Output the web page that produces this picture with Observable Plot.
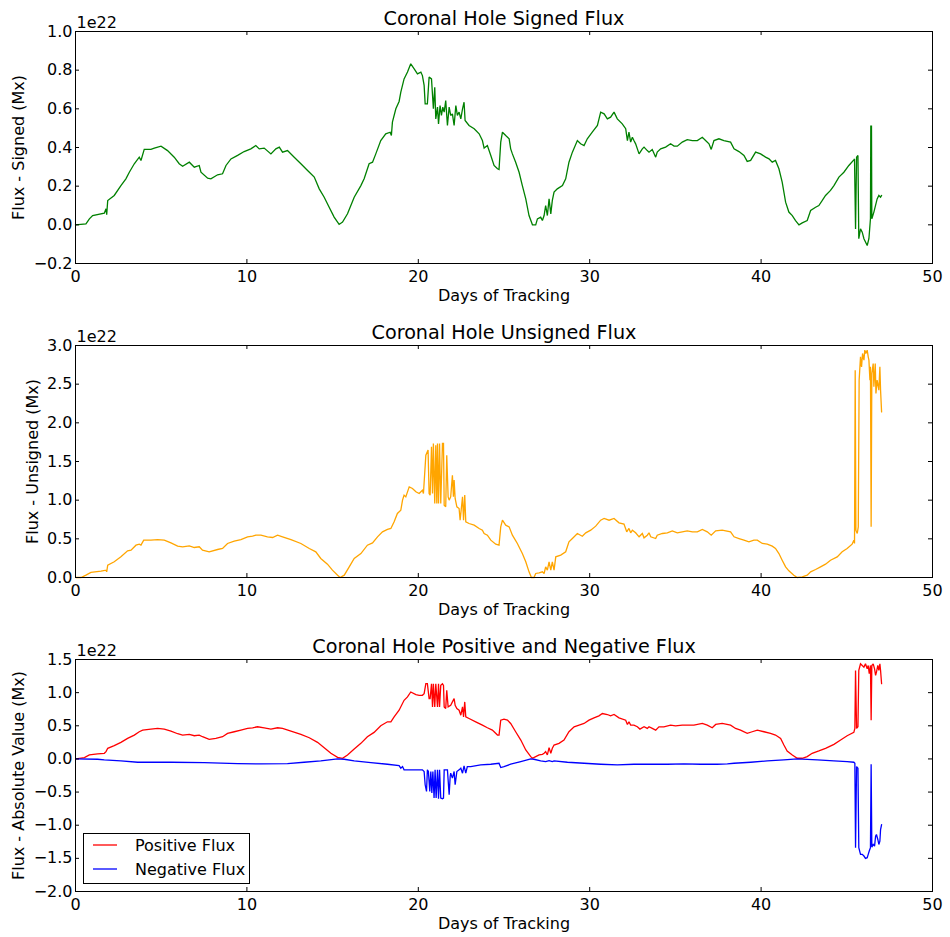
<!DOCTYPE html>
<html><head><meta charset="utf-8">
<script src="https://cdn.jsdelivr.net/npm/d3@7"></script>
<script src="https://cdn.jsdelivr.net/npm/@observablehq/plot@0.6"></script>
<style>
body{margin:0;background:#fff}
#chart{width:950px;position:relative;background:#fff}
#chart svg{display:block}
</style>
</head><body><div id="chart"></div>
<script>
// ---- data (flux in units of 1e22 Mx, x = days of tracking) ----
const xTicks = [0, 10, 20, 30, 40, 50];
const signedTicks = [-0.2, 0, 0.2, 0.4, 0.6, 0.8, 1.0];
const unsignedTicks = [0, 0.5, 1.0, 1.5, 2.0, 2.5, 3.0];
const posNegTicks = [-2.0, -1.5, -1.0, -0.5, 0, 0.5, 1.0, 1.5];
const titles = ["Coronal Hole Signed Flux", "Coronal Hole Unsigned Flux", "Coronal Hole Positive and Negative Flux"];
const yLabels = ["Flux - Signed (Mx)", "Flux - Unsigned (Mx)", "Flux - Absolute Value (Mx)"];
const xLabel = "Days of Tracking";
const legendLabels = ["Positive Flux", "Negative Flux"];

const signedFlux = [[0,0],[0.61,0.005],[0.81,0.031],[1.0,0.048],[1.68,0.06],[1.78,0.083],[1.82,0.052],[1.88,0.126],[2.26,0.152],[2.65,0.203],[2.94,0.238],[3.14,0.272],[3.43,0.316],[3.72,0.35],[3.82,0.333],[4.01,0.39],[4.4,0.39],[4.6,0.397],[4.99,0.407],[5.37,0.384],[5.76,0.35],[6.05,0.316],[6.25,0.303],[6.64,0.324],[6.93,0.298],[7.22,0.307],[7.32,0.272],[7.71,0.241],[7.9,0.238],[8.29,0.259],[8.58,0.264],[8.78,0.307],[9.07,0.341],[9.46,0.359],[9.84,0.379],[10.23,0.393],[10.52,0.41],[10.72,0.393],[11.01,0.397],[11.4,0.367],[11.69,0.393],[11.89,0.402],[12.08,0.376],[12.37,0.384],[12.76,0.35],[13.15,0.316],[13.54,0.281],[13.93,0.247],[14.22,0.186],[14.51,0.143],[14.8,0.091],[15.09,0.04],[15.38,0.002],[15.58,0.014],[15.87,0.057],[16.26,0.143],[16.65,0.203],[16.84,0.238],[17.13,0.316],[17.33,0.324],[17.52,0.367],[17.81,0.436],[18.1,0.471],[18.36,0.479],[18.43,0.462],[18.49,0.531],[18.69,0.6],[18.88,0.638],[18.98,0.686],[19.17,0.755],[19.37,0.79],[19.56,0.833],[19.76,0.807],[19.95,0.781],[20.15,0.79],[20.24,0.772],[20.34,0.721],[20.4,0.626],[20.53,0.626],[20.63,0.764],[20.77,0.755],[20.88,0.6],[20.96,0.712],[21.02,0.548],[21.12,0.609],[21.18,0.522],[21.27,0.617],[21.35,0.566],[21.43,0.609],[21.51,0.583],[21.6,0.643],[21.7,0.514],[21.8,0.609],[21.89,0.566],[21.99,0.574],[22.09,0.514],[22.19,0.617],[22.28,0.566],[22.38,0.583],[22.48,0.548],[22.58,0.6],[22.67,0.634],[22.73,0.54],[22.96,0.514],[23.26,0.497],[23.55,0.471],[23.74,0.436],[23.84,0.397],[24.03,0.41],[24.23,0.359],[24.42,0.307],[24.62,0.29],[24.71,0.286],[24.81,0.428],[24.91,0.479],[25.1,0.462],[25.3,0.445],[25.39,0.393],[25.49,0.367],[25.68,0.324],[25.88,0.272],[26.07,0.203],[26.27,0.134],[26.46,0.048],[26.66,0],[26.85,0],[26.95,0.031],[27.14,0.04],[27.24,0.022],[27.34,0.048],[27.43,0.1],[27.53,0.048],[27.63,0.134],[27.73,0.057],[27.82,0.126],[27.92,0.169],[28.11,0.186],[28.41,0.203],[28.6,0.238],[28.79,0.324],[28.99,0.376],[29.28,0.436],[29.47,0.419],[29.67,0.41],[29.86,0.445],[30.15,0.479],[30.45,0.514],[30.64,0.583],[30.84,0.574],[31.03,0.548],[31.22,0.557],[31.42,0.583],[31.61,0.548],[31.9,0.522],[32.1,0.497],[32.2,0.436],[32.29,0.479],[32.39,0.428],[32.49,0.453],[32.58,0.436],[32.68,0.419],[32.88,0.367],[33.07,0.393],[33.17,0.402],[33.36,0.384],[33.46,0.376],[33.65,0.39],[33.85,0.35],[33.94,0.376],[34.14,0.393],[34.43,0.402],[34.72,0.419],[34.92,0.407],[35.11,0.407],[35.4,0.428],[35.69,0.441],[35.99,0.436],[36.28,0.436],[36.57,0.453],[36.76,0.436],[36.96,0.419],[37.09,0.39],[37.25,0.436],[37.54,0.445],[37.83,0.436],[38.22,0.428],[38.42,0.393],[38.71,0.379],[39.0,0.359],[39.19,0.328],[39.39,0.333],[39.68,0.376],[39.97,0.367],[40.26,0.35],[40.46,0.341],[40.65,0.324],[40.84,0.333],[41.04,0.29],[41.23,0.221],[41.43,0.117],[41.62,0.066],[41.82,0.048],[42.01,0.022],[42.21,0],[42.4,0.01],[42.69,0.022],[42.89,0.074],[43.18,0.091],[43.37,0.1],[43.57,0.126],[43.76,0.152],[44.05,0.178],[44.25,0.203],[44.54,0.247],[44.83,0.272],[45.12,0.307],[45.41,0.336],[45.45,0.341],[45.51,-0.021],[45.57,0.35],[45.65,0.359],[45.7,-0.072],[45.8,-0.021],[45.9,-0.038],[46.0,-0.072],[46.19,-0.107],[46.29,-0.072],[46.38,0.031],[46.4,0.514],[46.42,0.031],[46.44,0.514],[46.46,0.031],[46.58,0.066],[46.77,0.134],[46.87,0.152],[46.97,0.143],[47.03,0.152]];

const unsignedFlux = [[0.03,0],[0.32,0],[0.61,0.03],[0.9,0.065],[1.49,0.082],[1.78,0.095],[1.82,0.073],[1.88,0.159],[2.26,0.203],[2.65,0.267],[3.04,0.345],[3.24,0.353],[3.53,0.418],[3.72,0.431],[3.82,0.418],[3.98,0.483],[4.4,0.483],[4.79,0.491],[5.18,0.483],[5.57,0.448],[5.96,0.405],[6.25,0.397],[6.64,0.409],[6.93,0.388],[7.22,0.397],[7.41,0.353],[7.8,0.332],[8.29,0.362],[8.58,0.375],[8.87,0.44],[9.26,0.47],[9.65,0.491],[10.04,0.526],[10.33,0.534],[10.52,0.547],[10.82,0.547],[11.2,0.526],[11.5,0.517],[11.79,0.547],[12.08,0.526],[12.57,0.491],[13.15,0.44],[13.64,0.375],[14.02,0.332],[14.31,0.246],[14.7,0.172],[14.99,0.095],[15.29,0.03],[15.44,0],[15.68,0.03],[15.97,0.138],[16.26,0.246],[16.65,0.31],[17.03,0.418],[17.33,0.448],[17.62,0.526],[17.91,0.591],[18.2,0.621],[18.4,0.634],[18.59,0.72],[18.78,0.828],[18.98,0.871],[19.08,1.0],[19.17,1.065],[19.27,1.043],[19.47,1.172],[19.66,1.151],[19.86,1.108],[20.05,1.086],[20.24,1.129],[20.3,1.086],[20.44,1.582],[20.57,1.647],[20.63,1.086],[20.69,1.065],[20.77,1.69],[20.83,1.086],[20.88,1.733],[20.96,0.957],[21.02,1.711],[21.08,0.957],[21.12,1.733],[21.18,0.957],[21.24,1.733],[21.31,0.957],[21.41,1.733],[21.47,1.733],[21.51,0.935],[21.6,0.914],[21.66,1.582],[21.74,1.043],[21.8,1.0],[21.89,1.043],[21.99,1.323],[22.05,1.043],[22.09,1.259],[22.15,1.022],[22.25,0.914],[22.38,0.892],[22.44,0.741],[22.58,1.043],[22.64,0.741],[22.71,1.065],[22.77,0.72],[22.96,0.698],[23.26,0.677],[23.55,0.634],[23.74,0.612],[23.84,0.569],[24.03,0.547],[24.23,0.483],[24.52,0.431],[24.71,0.418],[24.81,0.655],[24.91,0.741],[25.1,0.677],[25.3,0.655],[25.49,0.547],[25.78,0.44],[26.07,0.31],[26.27,0.203],[26.46,0.073],[26.6,0],[26.75,0],[26.85,0.052],[27.05,0.06],[27.24,0.073],[27.34,0.052],[27.43,0.138],[27.53,0.095],[27.63,0.203],[27.73,0.095],[27.82,0.203],[27.92,0.095],[28.02,0.267],[28.31,0.289],[28.6,0.332],[28.79,0.461],[28.99,0.504],[29.28,0.569],[29.57,0.534],[29.77,0.578],[30.06,0.612],[30.35,0.664],[30.64,0.741],[30.84,0.763],[31.13,0.741],[31.42,0.763],[31.71,0.707],[32.0,0.69],[32.16,0.591],[32.29,0.634],[32.39,0.578],[32.49,0.612],[32.68,0.578],[32.88,0.526],[33.07,0.569],[33.17,0.513],[33.36,0.547],[33.46,0.578],[33.56,0.526],[33.85,0.504],[33.94,0.547],[34.24,0.569],[34.53,0.578],[34.82,0.603],[35.11,0.578],[35.4,0.591],[35.69,0.603],[35.99,0.591],[36.28,0.591],[36.57,0.621],[36.86,0.591],[37.09,0.547],[37.35,0.603],[37.73,0.612],[38.22,0.591],[38.42,0.526],[38.71,0.504],[39.0,0.483],[39.29,0.461],[39.58,0.483],[39.78,0.483],[40.07,0.44],[40.36,0.431],[40.65,0.405],[40.84,0.375],[41.04,0.31],[41.23,0.224],[41.43,0.138],[41.62,0.086],[41.91,0.03],[42.11,0],[42.4,0.009],[42.69,0.03],[42.89,0.073],[43.18,0.103],[43.47,0.138],[43.76,0.172],[44.05,0.224],[44.44,0.267],[44.73,0.332],[45.02,0.375],[45.31,0.431],[45.41,0.483],[45.45,0.44],[45.49,2.681],[45.53,0.612],[45.61,0.569],[45.67,0.655],[45.72,2.552],[45.8,2.853],[45.86,2.724],[45.92,2.897],[46.0,2.81],[46.05,2.94],[46.11,2.897],[46.19,2.94],[46.25,2.853],[46.29,2.81],[46.35,2.552],[46.38,2.724],[46.42,0.655],[46.46,2.638],[46.54,2.767],[46.58,2.466],[46.66,2.767],[46.7,2.379],[46.77,2.552],[46.87,2.422],[46.93,2.724],[46.97,2.422],[47.03,2.142]];

const positiveFlux = [[0.03,0],[0.52,0.02],[0.81,0.06],[1.29,0.075],[1.68,0.085],[1.78,0.11],[1.88,0.16],[2.26,0.2],[2.65,0.25],[3.04,0.31],[3.43,0.36],[3.72,0.41],[3.92,0.435],[4.4,0.45],[4.79,0.46],[5.18,0.45],[5.57,0.42],[5.96,0.38],[6.25,0.36],[6.64,0.37],[6.93,0.35],[7.22,0.36],[7.41,0.335],[7.8,0.295],[8.19,0.31],[8.58,0.335],[8.87,0.385],[9.26,0.41],[9.65,0.435],[10.04,0.46],[10.33,0.47],[10.62,0.485],[11.01,0.47],[11.4,0.45],[11.79,0.47],[12.08,0.46],[12.57,0.42],[13.15,0.37],[13.64,0.32],[14.12,0.25],[14.51,0.17],[14.9,0.085],[15.29,0.025],[15.58,0.01],[15.87,0.06],[16.26,0.15],[16.65,0.235],[17.03,0.335],[17.42,0.4],[17.81,0.5],[18.2,0.56],[18.4,0.56],[18.59,0.635],[18.88,0.735],[19.17,0.885],[19.37,0.935],[19.56,1.01],[19.86,0.97],[20.05,0.96],[20.24,0.96],[20.34,0.985],[20.44,1.135],[20.53,1.135],[20.63,0.91],[20.69,0.91],[20.77,1.135],[20.83,0.785],[20.88,1.135],[20.96,0.785],[21.02,1.135],[21.12,0.785],[21.18,1.135],[21.24,0.785],[21.31,1.11],[21.41,1.135],[21.47,1.11],[21.51,0.785],[21.6,0.76],[21.66,1.035],[21.74,0.785],[21.89,0.81],[21.99,0.86],[22.09,0.91],[22.15,0.81],[22.25,0.76],[22.38,0.735],[22.48,0.66],[22.58,0.785],[22.64,0.635],[22.71,0.86],[22.77,0.635],[22.96,0.61],[23.35,0.56],[23.74,0.51],[24.03,0.47],[24.32,0.435],[24.62,0.36],[24.71,0.36],[24.81,0.585],[25.0,0.6],[25.2,0.585],[25.39,0.535],[25.68,0.41],[25.98,0.285],[26.27,0.135],[26.56,0.035],[26.66,0.01],[26.85,0.035],[27.05,0.06],[27.24,0.07],[27.34,0.085],[27.43,0.11],[27.53,0.06],[27.63,0.17],[27.73,0.085],[27.82,0.16],[27.92,0.21],[28.21,0.235],[28.5,0.285],[28.79,0.41],[29.09,0.485],[29.38,0.51],[29.67,0.535],[29.96,0.585],[30.25,0.62],[30.54,0.65],[30.74,0.685],[31.03,0.67],[31.22,0.65],[31.42,0.67],[31.71,0.62],[32.1,0.585],[32.2,0.52],[32.29,0.56],[32.39,0.51],[32.58,0.51],[32.78,0.485],[32.93,0.45],[33.17,0.485],[33.36,0.46],[33.46,0.485],[33.65,0.46],[33.85,0.435],[34.04,0.485],[34.33,0.485],[34.72,0.51],[35.01,0.5],[35.4,0.51],[35.69,0.51],[36.08,0.51],[36.57,0.535],[36.86,0.51],[37.15,0.47],[37.35,0.52],[37.73,0.535],[38.22,0.51],[38.51,0.46],[38.8,0.435],[39.19,0.385],[39.48,0.41],[39.78,0.435],[40.17,0.41],[40.55,0.385],[40.84,0.36],[41.14,0.31],[41.33,0.21],[41.52,0.12],[41.82,0.06],[42.11,0.01],[42.4,0.01],[42.69,0.035],[42.98,0.085],[43.37,0.12],[43.76,0.16],[44.25,0.22],[44.64,0.285],[45.02,0.35],[45.41,0.4],[45.47,0.46],[45.51,1.335],[45.57,0.46],[45.65,0.485],[45.7,1.335],[45.8,1.435],[45.9,1.41],[46.0,1.385],[46.09,1.435],[46.19,1.36],[46.25,1.41],[46.31,1.285],[46.38,1.41],[46.42,0.585],[46.46,1.41],[46.54,1.435],[46.62,1.36],[46.68,1.26],[46.73,1.31],[46.81,1.41],[46.87,1.335],[46.93,1.435],[46.97,1.335],[47.03,1.135]];

const negativeFlux = [[0.03,0],[1.29,-0.005],[1.68,-0.015],[2.65,-0.03],[3.63,-0.05],[4.6,-0.05],[5.57,-0.05],[7.51,-0.055],[9.46,-0.07],[10.82,-0.075],[12.37,-0.07],[13.34,-0.05],[14.31,-0.03],[15.29,0],[15.68,-0.005],[16.26,-0.03],[17.23,-0.055],[18.2,-0.08],[18.88,-0.1],[18.98,-0.14],[19.08,-0.115],[19.17,-0.165],[19.37,-0.165],[19.95,-0.165],[20.24,-0.165],[20.34,-0.19],[20.4,-0.39],[20.48,-0.49],[20.53,-0.165],[20.59,-0.19],[20.67,-0.49],[20.73,-0.19],[20.79,-0.515],[20.85,-0.19],[20.92,-0.59],[20.98,-0.165],[21.04,-0.59],[21.12,-0.165],[21.18,-0.6],[21.24,-0.165],[21.31,-0.59],[21.41,-0.6],[21.47,-0.59],[21.51,-0.165],[21.6,-0.165],[21.7,-0.165],[21.8,-0.54],[21.86,-0.265],[21.89,-0.215],[21.99,-0.29],[22.09,-0.19],[22.15,-0.39],[22.25,-0.19],[22.38,-0.165],[22.48,-0.14],[22.58,-0.215],[22.67,-0.105],[22.77,-0.215],[22.86,-0.115],[23.06,-0.115],[23.64,-0.09],[24.23,-0.08],[24.71,-0.065],[24.81,-0.13],[25.0,-0.115],[25.39,-0.08],[25.98,-0.04],[26.56,0],[26.75,-0.005],[27.14,-0.03],[27.43,-0.04],[27.63,-0.025],[27.82,-0.04],[27.92,-0.03],[28.7,-0.05],[29.67,-0.065],[30.64,-0.08],[31.61,-0.09],[32.58,-0.08],[33.56,-0.08],[34.53,-0.08],[35.5,-0.075],[36.47,-0.08],[37.44,-0.08],[38.03,-0.075],[38.42,-0.065],[39.39,-0.05],[40.36,-0.03],[41.33,-0.015],[42.11,0],[43.28,-0.015],[44.25,-0.03],[45.02,-0.04],[45.41,-0.05],[45.47,-0.065],[45.51,-1.34],[45.57,-0.115],[45.65,-0.14],[45.7,-1.34],[45.8,-1.44],[45.9,-1.44],[46.0,-1.465],[46.09,-1.5],[46.19,-1.49],[46.25,-1.44],[46.31,-1.39],[46.38,-1.34],[46.42,-0.08],[46.46,-1.33],[46.54,-1.29],[46.62,-1.315],[46.68,-1.165],[46.73,-1.14],[46.81,-1.215],[46.87,-1.29],[46.93,-1.24],[46.97,-1.065],[47.03,-0.99]];

// ---- layout / style ----
const W = 950, ML = 75, MR = 18, MT = 31, FH = 232;
const FW = W - ML - MR;
const FONT = "DejaVu Sans, sans-serif";
const fmt1 = d3.format(".1f");

function panel({title, ylabel, ylabelDx, domain, ticks, series, height}) {
  const marginBottom = height - MT - FH;
  return Plot.plot({
    width: W, height,
    marginLeft: ML, marginRight: MR, marginTop: MT, marginBottom,
    style: {fontFamily: FONT, fontSize: "16px", background: "#fff", color: "#000", overflow: "visible"},
    x: {domain: [0, 50]},
    y: {domain},
    marks: [
      ...series.map(s => Plot.line(s.data, {x: d => d[0], y: d => d[1], stroke: s.color, strokeWidth: 1.3, strokeLinejoin: "miter", strokeMiterlimit: 2})),
      Plot.frame({stroke: "#000", strokeWidth: 1}),
      // inward ticks on all four sides
      Plot.tickY(ticks, {y: d => d, stroke: "#000", insetRight: FW - 4}),
      Plot.tickY(ticks, {y: d => d, stroke: "#000", insetLeft: FW - 4}),
      Plot.tickX(xTicks, {x: d => d, stroke: "#000", insetTop: FH - 4}),
      Plot.tickX(xTicks, {x: d => d, stroke: "#000", insetBottom: FH - 4}),
      Plot.axisX({ticks: xTicks, tickSize: 0, tickPadding: 7, tickFormat: d => String(d), label: null, fontSize: 16}),
      Plot.axisY({ticks, tickSize: 0, tickPadding: 3, tickFormat: fmt1, label: null, fontSize: 16}),
      Plot.text([title], {frameAnchor: "top", dy: -7, lineAnchor: "bottom", textAnchor: "middle", fontSize: 19.2, fill: "#000"}),
      Plot.text(["1e22"], {frameAnchor: "top-left", dx: 1, dy: -4, textAnchor: "start", lineAnchor: "bottom", fontSize: 16, fill: "#000"}),
      Plot.text([xLabel], {frameAnchor: "bottom", dy: 37, lineAnchor: "bottom", textAnchor: "middle", fontSize: 16, fill: "#000"}),
      Plot.text([ylabel], {frameAnchor: "left", dx: ylabelDx, rotate: -90, lineAnchor: "bottom", textAnchor: "middle", fontSize: 16, fill: "#000"})
    ]
  });
}

const chart = document.getElementById("chart");
chart.appendChild(panel({title: titles[0], ylabel: yLabels[0], ylabelDx: -52, domain: [-0.2, 1.0], ticks: signedTicks,
  series: [{data: signedFlux, color: "#008000"}], height: 314}));
chart.appendChild(panel({title: titles[1], ylabel: yLabels[1], ylabelDx: -38, domain: [0, 3.0], ticks: unsignedTicks,
  series: [{data: unsignedFlux, color: "#ffa500"}], height: 314}));
const bottom = panel({title: titles[2], ylabel: yLabels[2], ylabelDx: -52, domain: [-2.0, 1.5], ticks: posNegTicks,
  series: [{data: positiveFlux, color: "#ff0000"}, {data: negativeFlux, color: "#0000ff"}], height: 309});
chart.appendChild(bottom);

// legend inside the bottom axes (lower left)
const lg = d3.select(bottom).append("g").attr("font-family", FONT).attr("font-size", 16).attr("text-anchor", "start");
lg.append("rect").attr("x", 83.5).attr("y", 205.5).attr("width", 166).attr("height", 50)
  .attr("fill", "#fff").attr("stroke", "#000").attr("stroke-width", 1);
[["#ff0000", legendLabels[0]], ["#0000ff", legendLabels[1]]].forEach(([c, t], i) => {
  const yy = 217 + i * 24;
  lg.append("line").attr("x1", 93).attr("x2", 117).attr("y1", yy).attr("y2", yy).attr("stroke", c).attr("stroke-width", 1.3);
  lg.append("text").attr("x", 135).attr("y", yy + 5.5).attr("fill", "#000").attr("text-anchor", "start").text(t);
});
</script>
</body></html>
